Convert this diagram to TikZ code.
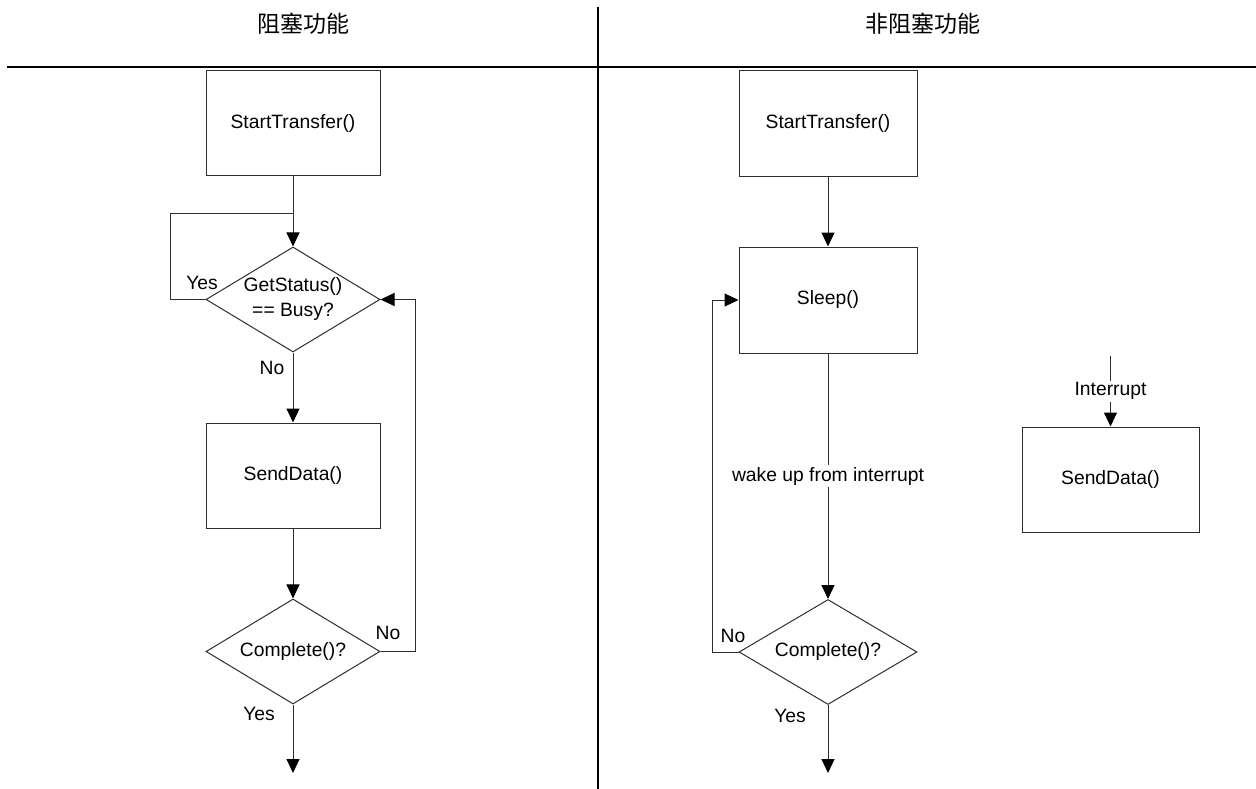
\documentclass[tikz,border=0pt]{standalone}
\usepackage{fontspec}
\setmainfont{Liberation Sans}
\newfontfamily\cjk{Noto Sans CJK SC}
\usetikzlibrary{arrows.meta,shapes.geometric}

\begin{document}
\begin{tikzpicture}[x=1pt,y=-1pt,
  font=\fontsize{19.3}{25}\selectfont,
  stroke/.style={draw=black!82, line width=1pt},
  procbox/.style={stroke, rectangle, minimum width=174pt, minimum height=105pt, inner sep=0pt, align=center},
  decision/.style={stroke, diamond, shape aspect=1.65, minimum width=174pt, minimum height=105pt, inner sep=0pt, align=center},
  flow/.style={stroke, -{Triangle[length=14pt,width=13pt,color=black]}},
  link/.style={stroke},
  lbl/.style={inner sep=1pt},
  cut/.style={fill=white, inner sep=2pt},
  heading/.style={font=\cjk\fontsize{23}{26}\selectfont},
  rule/.style={draw=black, line width=2pt}
]
\useasboundingbox (0,0) rectangle (1256,789);

% swimlane header
\node[heading] (tl) at (303,24) {阻塞功能};
\node[heading] (tr) at (923,24) {非阻塞功能};
\coordinate (hl) at (7,67);
\coordinate (hr) at (1256,67);
\coordinate (vt) at (598,7);
\coordinate (vb) at (598,789);
\draw[rule] (hl) -- (hr);
\draw[rule] (vt) -- (vb);

% blocking lane
\node[procbox]  (ls)  at (293,123.5) {StartTransfer()};
\node[decision] (lb)  at (293,299.5) {GetStatus()\\== Busy?};
\node[procbox]  (ld)  at (293,475.5) {SendData()};
\node[decision] (lc)  at (293,651.5) {Complete()?};
\coordinate (lend) at (293,773);
\coordinate (ljoin) at (293,213);

\draw[flow] (ls) -- (lb);
\draw[link] (lb.west) -- ++(-35,0) |- (ljoin);
\draw[flow] (lb) -- (ld);
\draw[flow] (ld) -- (lc);
\draw[flow] (lc.east) -- ++(35,0) |- (lb.east);
\draw[flow] (lc) -- (lend);

\node[lbl] (lyes1) at (202,283) {Yes};
\node[lbl] (lno1)  at (272,368) {No};
\node[lbl] (lno2)  at (388,633) {No};
\node[lbl] (lyes2) at (259,714) {Yes};

% non-blocking lane
\node[procbox, minimum width=178pt, minimum height=106pt] (rs) at (828,124) {StartTransfer()};
\node[procbox, minimum width=178pt, minimum height=106pt] (rw) at (828,300) {Sleep()};
\node[decision, minimum width=178pt] (rc) at (828,652) {Complete()?};
\coordinate (rend) at (828,773);

\draw[flow] (rs) -- (rw);
\draw[flow] (rw) -- node[cut] (wake) {wake up from interrupt} (rc);
\draw[flow] (rc.west) -- ++(-26,0) |- (rw.west);
\draw[flow] (rc) -- (rend);

\node[lbl] (rno)  at (733,636) {No};
\node[lbl] (ryes) at (790,716) {Yes};

% interrupt handler
\node[procbox, minimum width=177pt] (ri) at (1110.5,479.5) {SendData()};
\coordinate (irq) at (1110.5,356);
\draw[flow] (irq) -- node[cut, pos=0.5] (irqlbl) {Interrupt} (ri);
\end{tikzpicture}
\end{document}
